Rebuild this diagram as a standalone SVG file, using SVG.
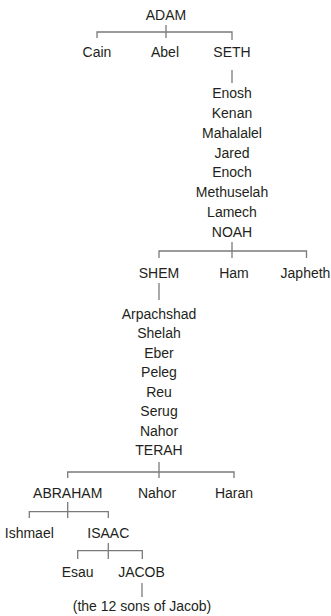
<svg xmlns="http://www.w3.org/2000/svg" width="331" height="616" viewBox="0 0 331 616">
<style>
text{font-family:"Liberation Sans",Arial,sans-serif;font-size:14px;fill:#231f20;text-anchor:middle}
.c{fill:none;stroke:#7a7a7a;stroke-width:1.3}
</style>
<rect width="331" height="616" fill="#fff"/>
<g id="connectors">
<path class="c" d="M166,25V38M97,38V32H232V40"/>
<path class="c" d="M232,70V83"/>
<path class="c" d="M232,242V258M159,258V251H306.5V258"/>
<path class="c" d="M159,283V300"/>
<path class="c" d="M159,462V478M67.7,478V472H234V478"/>
<path class="c" d="M67.7,502V518M29.3,518V511.7H108.3V518"/>
<path class="c" d="M108.3,543V559M77.7,559V550.7H142.3V559"/>
<path class="c" d="M142,583V597"/>
</g>
<g id="adam"><text x="166" y="20">ADAM</text></g>
<g id="cain"><text x="97" y="57">Cain</text></g>
<g id="abel"><text x="165" y="57">Abel</text></g>
<g id="seth"><text x="232" y="57">SETH</text></g>
<g id="seth-line">
<text x="232" y="98.3">Enosh</text>
<text x="232" y="118">Kenan</text>
<text x="232" y="137.8">Mahalalel</text>
<text x="232" y="157.6">Jared</text>
<text x="232" y="177.3">Enoch</text>
<text x="232" y="197.1">Methuselah</text>
<text x="232" y="216.9">Lamech</text>
</g>
<g id="noah"><text x="232" y="236.6">NOAH</text></g>
<g id="shem"><text x="159" y="278">SHEM</text></g>
<g id="ham"><text x="234" y="278">Ham</text></g>
<g id="japheth"><text x="305.5" y="278">Japheth</text></g>
<g id="shem-line">
<text x="159" y="318.8">Arpachshad</text>
<text x="159" y="338.3">Shelah</text>
<text x="159" y="357.8">Eber</text>
<text x="159" y="377.3">Peleg</text>
<text x="159" y="396.8">Reu</text>
<text x="159" y="416.3">Serug</text>
<text x="159" y="435.8">Nahor</text>
</g>
<g id="terah"><text x="159" y="455.3">TERAH</text></g>
<g id="abraham"><text x="67.7" y="498">ABRAHAM</text></g>
<g id="nahor"><text x="157" y="498">Nahor</text></g>
<g id="haran"><text x="234" y="498">Haran</text></g>
<g id="ishmael"><text x="29.3" y="538">Ishmael</text></g>
<g id="isaac"><text x="108.3" y="538">ISAAC</text></g>
<g id="esau"><text x="77.7" y="577">Esau</text></g>
<g id="jacob"><text x="141.5" y="577">JACOB</text></g>
<g id="sons"><text x="142" y="611">(the 12 sons of Jacob)</text></g>
</svg>
